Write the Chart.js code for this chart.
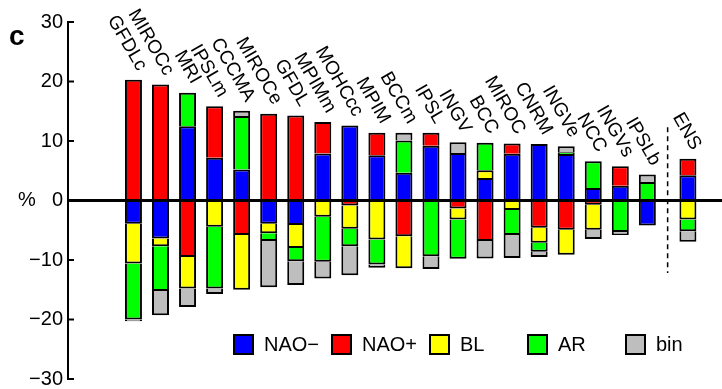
<!DOCTYPE html>
<html>
<head>
<meta charset="utf-8">
<script src="https://cdn.jsdelivr.net/npm/chart.js@4.4.1/dist/chart.umd.min.js"></script>
<style>
  html, body { margin: 0; padding: 0; background: #fff; }
  #wrap { width: 722px; height: 389px; }
</style>
</head>
<body>
<div id="wrap"><canvas id="myChart" width="722" height="389"></canvas></div>
<script>
// models, ENS last (after the dashed line)
var models = ['GFDLc', 'MIROCc', 'MRI', 'IPSLm', 'CCCMA', 'MIROCe', 'GFDL', 'MPIMm', 'MOHCcc', 'MPIM',
  'BCCm', 'IPSL', 'INGV', 'BCC', 'MIROC', 'CNRM', 'INGVe', 'NCC', 'INGVs', 'IPSLb', 'ENS'];

// % change of regime frequency
var naoMinus = [-3.9, -6.4, 12.5, 7.2, 5.2, -3.9, -4.1, 7.9, 12.6, 7.6, 4.65, 9.2, 8.0, 3.8, 7.85, 9.5, 7.8, 2.1, 2.5, -4.2, 4.25];
var naoPlus = [20.3, 19.5, -9.5, 8.65, -5.8, 14.6, 14.3, 5.3, -0.85, 3.8, -6.0, 2.2, -1.35, -6.8, 1.75, -4.6, -4.9, -0.7, 3.25, 0, 2.75];
var bl = [-6.7, -1.3, -5.3, -4.4, -9.2, -1.6, -3.9, -2.75, -3.9, -6.55, -5.4, 0, -1.85, 1.3, -1.6, -2.5, -4.2, -4.2, 0, 0, -3.2];
var ar = [-9.4, -7.5, 5.6, -10.4, 9.0, -1.3, -2.2, -7.55, -2.95, -4.2, 5.45, -9.35, -6.6, 4.6, -4.2, -1.5, 0.3, 4.5, -5.3, 3.1, -1.95];
var bin = [-0.3, -4.1, -3.1, -0.9, 0.9, -7.8, -4.0, -2.8, -4.85, -0.55, 1.3, -2.15, 1.8, -2.95, -3.85, -0.9, 1.0, -1.55, -0.5, 1.25, -1.8];

var regimeNames = ['NAO\u2212', 'NAO+', 'BL', 'AR', 'bin'];
var regimeColors = ['#0000ff', '#ff0000', '#ffff00', '#00ff00', '#bebebe'];
var yTicks = [-30, -20, -10, 0, 10, 20, 30];

var FONT = "'Liberation Sans', Arial, sans-serif";

// slot on the x axis, ENS gets a little extra gap
function slot(i) {
  return models[i] === 'ENS' ? i + 1.5 : i + 1;
}

function points(values) {
  var out = [];
  for (var i = 0; i < values.length; i++) {
    out.push({ x: slot(i), y: values[i] });
  }
  return out;
}

function positiveTotal(i) {
  var all = [naoMinus, naoPlus, bl, ar, bin];
  var sum = 0;
  for (var k = 0; k < all.length; k++) {
    if (all[k][i] > 0) sum += all[k][i];
  }
  return sum;
}

// zero line, inward ticks, dashed separator, labels, legend
var decorations = {
  id: 'decorations',
  afterDatasetsDraw: function (chart) {
    var ctx = chart.ctx;
    var area = chart.chartArea;
    var xs = chart.scales.x;
    var ys = chart.scales.y;

    ctx.save();
    ctx.strokeStyle = '#000';

    // zero line
    ctx.lineWidth = 3;
    ctx.beginPath();
    ctx.moveTo(area.left, ys.getPixelForValue(0));
    ctx.lineTo(area.right, ys.getPixelForValue(0));
    ctx.stroke();

    // ticks pointing into the plot
    ctx.lineWidth = 2;
    for (var t = 0; t < yTicks.length; t++) {
      var ty = ys.getPixelForValue(yTicks[t]);
      ctx.beginPath();
      ctx.moveTo(area.left, ty);
      ctx.lineTo(area.left + 6, ty);
      ctx.stroke();
    }

    // dashed line before ENS
    var last = models.length - 1;
    var dx = (xs.getPixelForValue(slot(last - 1)) + xs.getPixelForValue(slot(last))) / 2;
    ctx.lineWidth = 1.5;
    ctx.setLineDash([5, 4]);
    ctx.beginPath();
    ctx.moveTo(dx, ys.getPixelForValue(12.3));
    ctx.lineTo(dx, ys.getPixelForValue(-12.2));
    ctx.stroke();
    ctx.setLineDash([]);

    // rotated model names above each bar
    ctx.fillStyle = '#000';
    ctx.font = '19px ' + FONT;
    ctx.textAlign = 'right';
    ctx.textBaseline = 'alphabetic';
    for (var i = 0; i < models.length; i++) {
      var bx = xs.getPixelForValue(slot(i)) + 4;
      var by = ys.getPixelForValue(positiveTotal(i)) - 8;
      ctx.save();
      ctx.translate(bx, by);
      ctx.rotate(Math.PI / 3);
      ctx.fillText(models[i], 0, 0);
      ctx.restore();
    }

    // panel letter and unit
    ctx.textAlign = 'left';
    ctx.textBaseline = 'middle';
    ctx.font = 'bold 28px ' + FONT;
    ctx.fillText('c', 9, 37);
    ctx.font = '20px ' + FONT;
    ctx.fillText('%', 18, ys.getPixelForValue(0));

    // legend
    ctx.font = '20px ' + FONT;
    for (var r = 0; r < regimeNames.length; r++) {
      var lx = 234 + r * 98;
      var ly = 335;
      ctx.fillStyle = regimeColors[r];
      ctx.fillRect(lx, ly, 19, 19);
      ctx.lineWidth = 2;
      ctx.strokeRect(lx, ly, 19, 19);
      ctx.fillStyle = '#000';
      ctx.fillText(regimeNames[r], lx + 30, ly + 10);
    }
    ctx.restore();
  }
};

function getChart() {
  var series = [naoMinus, naoPlus, bl, ar, bin];
  var datasets = [];
  for (var k = 0; k < series.length; k++) {
    datasets.push({
      label: regimeNames[k],
      data: points(series[k]),
      backgroundColor: regimeColors[k],
      borderColor: '#000',
      borderWidth: 2,
      inflateAmount: 0,
      barThickness: 17
    });
  }

  var ctx = document.getElementById('myChart').getContext('2d');
  var chart = new Chart(ctx, {
    type: 'bar',
    data: { datasets: datasets },
    plugins: [decorations],
    options: {
      responsive: false,
      animation: false,
      devicePixelRatio: 1,
      layout: { padding: { left: 0, right: 0, top: 22, bottom: 10 } },
      plugins: {
        legend: { display: false },
        tooltip: { enabled: false }
      },
      scales: {
        x: {
          type: 'linear',
          stacked: true,
          offset: false,
          min: -1.42,
          max: 22.76,
          display: false
        },
        y: {
          stacked: true,
          min: -30,
          max: 30,
          afterFit: function (scale) { scale.width = 68; },
          afterBuildTicks: function (scale) {
            scale.ticks = yTicks.map(function (v) { return { value: v }; });
          },
          grid: { display: false, drawTicks: false },
          border: { display: true, color: '#000', width: 2 },
          ticks: {
            color: '#000',
            padding: 5,
            font: { family: FONT, size: 20, lineHeight: 0.3 },
            callback: function (v) { return v < 0 ? '\u2212' + Math.abs(v) : String(v); }
          }
        }
      }
    }
  });
}

getChart();
</script>
</body>
</html>
